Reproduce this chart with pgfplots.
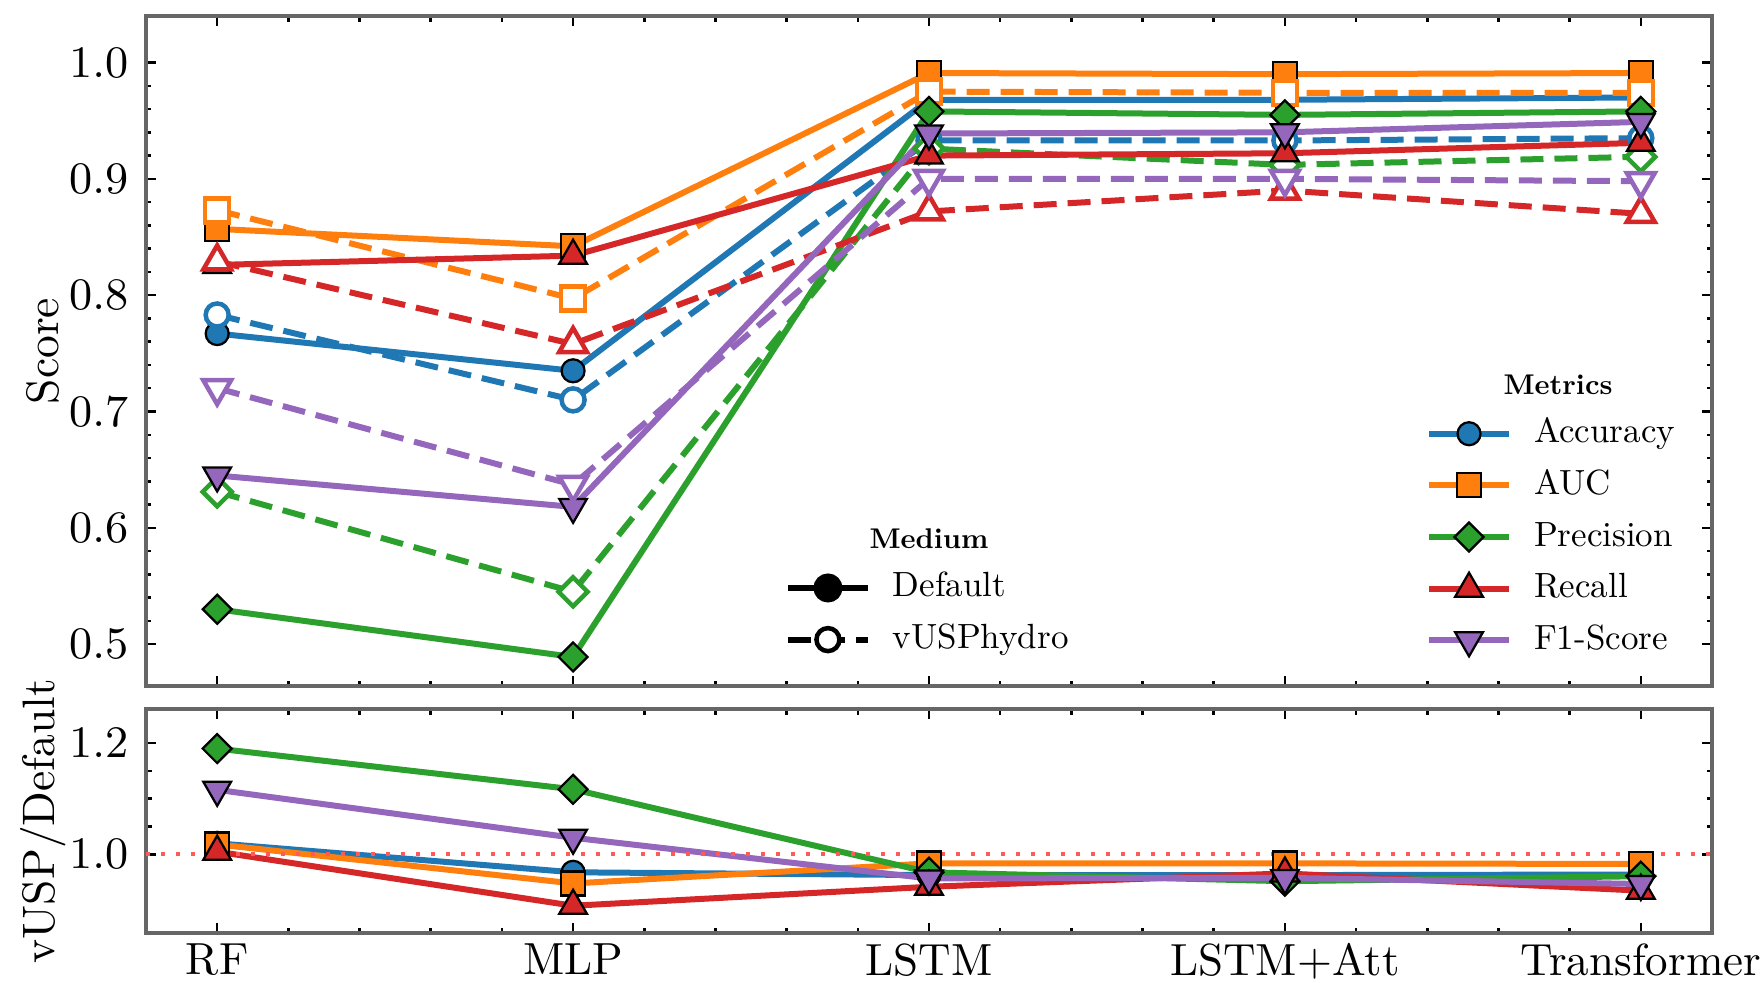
\documentclass[border=0pt]{standalone}
\usepackage{fontspec}
\setmainfont{lmroman10-regular}[Extension=.otf, BoldFont=lmroman10-bold]
\usepackage{pgfplots}
\usepackage{pgfplotstable}
\pgfplotsset{compat=1.18}
\definecolor{cA}{HTML}{1F77B4}
\definecolor{cB}{HTML}{FF7F0E}
\definecolor{cC}{HTML}{2CA02C}
\definecolor{cD}{HTML}{D62728}
\definecolor{cE}{HTML}{9467BD}

\pgfplotstableread{
x accD aucD precD recD f1D accV aucV precV recV f1V
0 0.767 0.857 0.530 0.826 0.645 0.783 0.873 0.631 0.829 0.720
1 0.735 0.842 0.489 0.834 0.618 0.710 0.797 0.545 0.758 0.637
2 0.968 0.991 0.958 0.920 0.939 0.933 0.975 0.926 0.872 0.900
3 0.968 0.990 0.955 0.922 0.940 0.933 0.974 0.912 0.890 0.900
4 0.970 0.991 0.958 0.931 0.949 0.935 0.974 0.919 0.870 0.898
}\topdata

\pgfplotstableread{
x acc auc prec rec f1
0 1.020 1.018 1.190 1.005 1.116
1 0.968 0.948 1.117 0.908 1.030
2 0.963 0.984 0.968 0.942 0.957
3 0.963 0.984 0.952 0.966 0.958
4 0.964 0.983 0.961 0.935 0.947
}\ratiodata

\pgfplotsset{
  common/.style={
    scale only axis, width=313.2pt,
    xmin=-0.2, xmax=4.2, xtick={0,1,2,3,4}, minor x tick num=4,
    tick align=inside, major tick length=2pt, minor tick length=1.1pt,
    axis line style={black!60, line width=0.7pt},
    every tick/.style={black, line width=0.5pt},
    tick label style={font=\fontsize{9}{10}\selectfont},
    xticklabel style={yshift=1.4pt},
    label style={font=\fontsize{9.1}{10}\selectfont},
    y label style={at={(axis description cs:-0.0655,0.5)}, anchor=center},
    yticklabel style={/pgf/number format/fixed, /pgf/number format/fixed zerofill, /pgf/number format/precision=1},
  },
  solidp/.style={solid, line width=1.2pt, color=#1, mark options={solid, fill=#1, draw=black, line width=0.45pt}},
  dashp/.style={line width=1.2pt, color=#1, dash pattern=on 4.6pt off 2.2pt, mark options={solid, fill=white, draw=#1, line width=0.9pt}},
  mA/.style={mark=*, mark size=2.3pt},
  mB/.style={mark=square*, mark size=2.4pt},
  mC/.style={mark=square*, mark size=2.05pt, every mark/.append style={rotate=45}},
  mD/.style={mark=triangle*, mark size=3.2pt},
  mE/.style={mark=triangle*, mark size=3.2pt, every mark/.append style={rotate=180}},
  legstyle/.style={
    legend style={draw=none, fill=none, inner sep=0pt, outer sep=0pt, row sep=3.33pt,
      font=\fontsize{7.0}{8}\selectfont,
      nodes={inner sep=0pt, text height=5.3pt, text depth=1.7pt},
      /tikz/every odd column/.append style={column sep=4.4pt}},
    legend cell align=left,
    legend image code/.code={\draw[mark repeat=2,mark phase=2] plot coordinates {(0pt,0pt) (8pt,0pt) (16pt,0pt)};},
  },
}

\begin{document}
\begin{tikzpicture}
% ---------------- top panel ----------------
\begin{axis}[common, legstyle, at={(0pt,0pt)}, anchor=south west, height=134pt,
  ymin=0.464, ymax=1.04, ytick={0.5,0.6,0.7,0.8,0.9,1.0}, minor y tick num=4,
  xticklabels={}, ylabel={Score},
  legend style={at={(0.8174,0.2224)}, anchor=west}]
\addplot[solidp=cA, mA, forget plot] table[x=x, y=accD] {\topdata};
\addplot[dashp=cA, mA, forget plot] table[x=x, y=accV] {\topdata};
\addplot[solidp=cB, mB, forget plot] table[x=x, y=aucD] {\topdata};
\addplot[dashp=cB, mB, forget plot] table[x=x, y=aucV] {\topdata};
\addplot[solidp=cC, mC, forget plot] table[x=x, y=precD] {\topdata};
\addplot[dashp=cC, mC, forget plot] table[x=x, y=precV] {\topdata};
\addplot[solidp=cD, mD, forget plot] table[x=x, y=recD] {\topdata};
\addplot[dashp=cD, mD, forget plot] table[x=x, y=recV] {\topdata};
\addplot[solidp=cE, mE, forget plot] table[x=x, y=f1D] {\topdata};
\addplot[dashp=cE, mE, forget plot] table[x=x, y=f1V] {\topdata};
\addlegendimage{solidp=cA, mA}\addlegendentry{Accuracy}
\addlegendimage{solidp=cB, mB}\addlegendentry{AUC}
\addlegendimage{solidp=cC, mC}\addlegendentry{Precision}
\addlegendimage{solidp=cD, mD}\addlegendentry{Recall}
\addlegendimage{solidp=cE, mE}\addlegendentry{F1-Score}
\end{axis}
% ---------------- medium legend overlay ----------------
\begin{axis}[legstyle, scale only axis, width=313.2pt, height=134pt, at={(0pt,0pt)}, anchor=south west,
  hide axis, xmin=0, xmax=1, ymin=0, ymax=1,
  legend style={at={(0.4080,0.1078)}, anchor=west}]
\addplot[draw=none, forget plot] coordinates {(0.5,0.5)};
\addlegendimage{black, solid, line width=1.2pt, mark=*, mark size=2.3pt, mark options={solid, fill=black, draw=black}}
\addlegendentry{Default}
\addlegendimage{black, line width=1.2pt, dash pattern=on 4.6pt off 2.2pt, mark=*, mark size=2.3pt, mark options={solid, fill=white, draw=black, line width=0.9pt}}
\addlegendentry{vUSPhydro}
\end{axis}
% ---------------- bottom panel ----------------
\begin{axis}[common, at={(0pt,-4.6pt)}, anchor=north west, height=44.8pt,
  ymin=0.859, ymax=1.261, ytick={1.0,1.2}, minor y tick num=3,
  xticklabels={RF,MLP,LSTM,LSTM+Att,Transformer}, ylabel={vUSP/Default}]
\addplot[solidp=cA, mA] table[x=x, y=acc] {\ratiodata};
\addplot[solidp=cB, mB] table[x=x, y=auc] {\ratiodata};
\addplot[solidp=cC, mC] table[x=x, y=prec] {\ratiodata};
\addplot[solidp=cD, mD] table[x=x, y=rec] {\ratiodata};
\addplot[solidp=cE, mE] table[x=x, y=f1] {\ratiodata};
\addplot[color=red!65, line width=0.8pt, dash pattern=on 0.8pt off 2.2pt] coordinates {(-0.2,1) (4.2,1)};
\end{axis}
% legend titles
\node[font=\fontsize{5.7}{7}\selectfont\bfseries] at (282.4pt,60.2pt) {Metrics};
\node[font=\fontsize{5.7}{7}\selectfont\bfseries] at (156.6pt,29.4pt) {Medium};
\pgfresetboundingbox
\path[use as bounding box] (-29.2pt,-59.2pt) rectangle (323.6pt,137.2pt);
\end{tikzpicture}
\end{document}
